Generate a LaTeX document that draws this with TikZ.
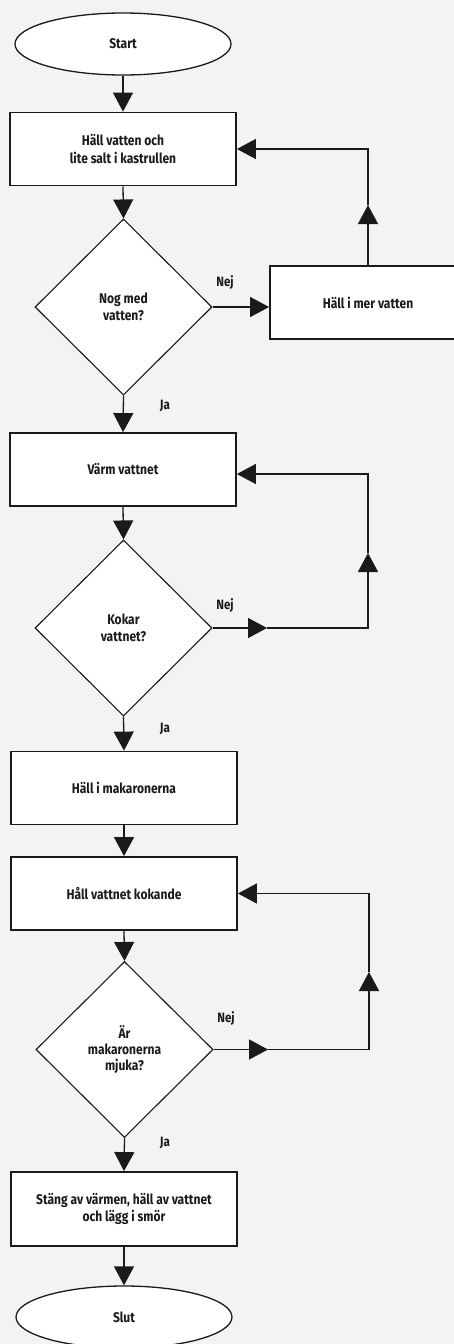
\documentclass[tikz,border=0pt]{standalone}
\usepackage{fontspec}
\setmainfont{Fira Sans}[FakeStretch=0.86]
\usetikzlibrary{shapes.geometric,arrows.meta}
\definecolor{bgc}{HTML}{F4F3F1}
\definecolor{ink}{HTML}{1A1A1A}
\tikzset{
 lbl/.style={font=\bfseries\fontsize{14}{17.5}\selectfont, text=ink, align=center},
 procbox/.style={lbl, draw=ink, line width=1.8pt, fill=white, minimum width=226pt, minimum height=73pt, inner sep=0pt},
 decbox/.style={lbl, diamond, draw=ink, line width=1.1pt, fill=white, minimum width=177pt, minimum height=176pt, inner sep=0pt},
 termbox/.style={lbl, ellipse, draw=ink, line width=1.3pt, fill=white, minimum width=216pt, minimum height=62pt, inner sep=0pt},
 conn/.style={draw=ink, line width=1.3pt},
 arr/.style={conn, -{Triangle[length=19pt,width=20pt]}},
 branch/.style={lbl, font=\bfseries\fontsize{13.5}{15}\selectfont}
}
\begin{document}
\begin{tikzpicture}[x=1pt,y=-1pt]
\fill[bgc] (0,0) rectangle (454,1344);
\useasboundingbox (0,0) rectangle (454,1344);
% nodes
\node[termbox] (start) at (123,44) {Start};
\node[procbox] (b1) at (123,149) {Häll vatten och\\lite salt i kastrullen};
\node[decbox] (d1) at (123.5,307) {Nog med\\vatten?};
\node[procbox, minimum width=196pt] (mer) at (368,302.5) {Häll i mer vatten};
\node[procbox] (b2) at (123,469.5) {Värm vattnet};
\node[decbox] (d2) at (123.5,628) {Kokar\\vattnet?};
\node[procbox] (b3) at (124,788) {Häll i makaronerna};
\node[procbox] (b4) at (124,893.5) {Håll vattnet kokande};
\node[decbox, font=\bfseries\fontsize{14}{16}\selectfont] (d3) at (124.5,1049.5) {Är\\makaronerna\\mjuka?};
\node[procbox, minimum height=74pt] (b5) at (124,1209) {Stäng av värmen, häll av vattnet\\och lägg i smör};
\node[termbox] (slut) at (124,1317) {Slut};
% branch labels
\node[branch] (nej1) at (225,283) {Nej};
\node[branch] (ja1) at (165,406) {Ja};
\node[branch] (nej2) at (225,606) {Nej};
\node[branch] (ja2) at (165,729) {Ja};
\node[branch] (nej3) at (226,1019) {Nej};
\node[branch] (ja3) at (165,1143) {Ja};
% helper coordinates
\coordinate (u1) at (368,205);
\coordinate (c1) at (368,149);
\coordinate (n2) at (267,628);
\coordinate (c2a) at (368,628);
\coordinate (u2) at (368,553);
\coordinate (c2b) at (368,474);
\coordinate (n3) at (268,1049.5);
\coordinate (c3a) at (369,1049.5);
\coordinate (u3) at (369,972);
\coordinate (c3b) at (369,893.5);
% connectors
\draw[arr] (start.south) -- (b1.north);
\draw[arr] (b1.south) -- (d1.north);
\draw[arr] (d1.east) -- (d1.east -| mer.west);
\draw[arr] (mer.north) -- (u1);
\draw[arr] (u1) -- (c1) -- (b1.east);
\draw[arr] (d1.south) -- (b2.north);
\draw[arr] (b2.south) -- (d2.north);
\draw[arr] (d2.east) -- (n2);
\draw[arr] (n2) -- (c2a) -- (u2);
\draw[arr] (u2) -- (c2b) -- (c2b -| b2.east);
\draw[arr] (d2.south) -- (b3.north);
\draw[arr] (b3.south) -- (b4.north);
\draw[arr] (b4.south) -- (d3.north);
\draw[arr] (d3.east) -- (n3);
\draw[arr] (n3) -- (c3a) -- (u3);
\draw[arr] (u3) -- (c3b) -- (b4.east);
\draw[arr] (d3.south) -- (b5.north);
\draw[arr] (b5.south) -- (slut.north);
\end{tikzpicture}
\end{document}
